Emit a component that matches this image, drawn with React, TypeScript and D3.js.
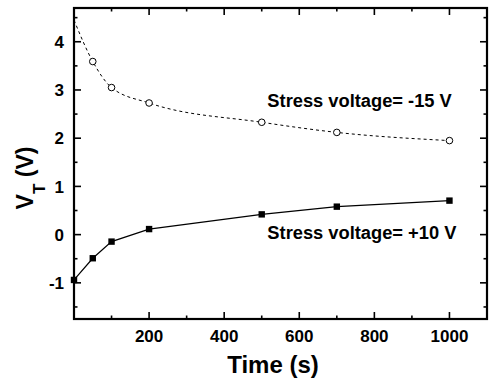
import React, { useEffect, useRef } from 'react';
import * as d3 from 'd3';

// stress time (s)
const times = [0, 50, 100, 200, 500, 700, 1000];
// threshold voltage under -15 V stress (open circles, dashed)
const vtNeg15 = [4.45, 3.59, 3.05, 2.73, 2.33, 2.12, 1.95];
// threshold voltage under +10 V stress (filled squares, solid)
const vtPos10 = [-0.94, -0.49, -0.145, 0.115, 0.42, 0.58, 0.705];

const xMajorTicks = [200, 400, 600, 800, 1000];
const xMinorTicks = [100, 300, 500, 700, 900];
const yMajorTicks = [-1, 0, 1, 2, 3, 4];
const yMinorTicks = [-1.5, -0.5, 0.5, 1.5, 2.5, 3.5, 4.5];

const labelNeg = 'Stress voltage= -15 V';
const labelPos = 'Stress voltage= +10 V';

const W = 489;
const H = 381;
const FONT = '"Liberation Sans", Arial, Helvetica, sans-serif';

const App: React.FC = () => {
  const svgRef = useRef<SVGSVGElement>(null);

  useEffect(() => {
    if (!svgRef.current) return;
    const svg = d3.select(svgRef.current);
    svg.selectAll('*').remove();

    const margin = { top: 8, right: 2, bottom: 62, left: 74 };
    const width = W - margin.left - margin.right;
    const height = H - margin.top - margin.bottom;

    const g = svg.append('g').attr('transform', `translate(${margin.left},${margin.top})`);

    const x = d3.scaleLinear().domain([0, 1100]).range([0, width]);
    const y = d3.scaleLinear().domain([-1.75, 4.7]).range([height, 0]);

    // inward ticks on all four sides
    const tickLen = (minor: boolean) => (minor ? 3.5 : 7);
    const ticks = g.append('g').attr('stroke', '#000').attr('stroke-width', 1.6);
    [...xMajorTicks.map(v => [v, false] as const), ...xMinorTicks.map(v => [v, true] as const)].forEach(([v, minor]) => {
      const px = x(v);
      ticks.append('line').attr('x1', px).attr('x2', px).attr('y1', height).attr('y2', height - tickLen(minor));
      ticks.append('line').attr('x1', px).attr('x2', px).attr('y1', 0).attr('y2', tickLen(minor));
    });
    [...yMajorTicks.map(v => [v, false] as const), ...yMinorTicks.map(v => [v, true] as const)].forEach(([v, minor]) => {
      const py = y(v);
      ticks.append('line').attr('x1', 0).attr('x2', tickLen(minor)).attr('y1', py).attr('y2', py);
      ticks.append('line').attr('x1', width).attr('x2', width - tickLen(minor)).attr('y1', py).attr('y2', py);
    });

    // tick labels
    g.selectAll('.xlab')
      .data(xMajorTicks)
      .enter().append('text')
      .attr('x', d => x(d))
      .attr('y', height + 23)
      .attr('text-anchor', 'middle')
      .style('font-family', FONT)
      .style('font-weight', 'bold')
      .style('font-size', '17px')
      .text(d => d);

    g.selectAll('.ylab')
      .data(yMajorTicks)
      .enter().append('text')
      .attr('x', -10)
      .attr('y', d => y(d))
      .attr('dy', '0.36em')
      .attr('text-anchor', 'end')
      .style('font-family', FONT)
      .style('font-weight', 'bold')
      .style('font-size', '17px')
      .text(d => d);

    // series lines
    const line = d3.line<number>()
      .x((d, i) => x(times[i]))
      .y(d => y(d));

    g.append('path')
      .datum(vtNeg15)
      .attr('fill', 'none')
      .attr('stroke', '#000')
      .attr('stroke-width', 1)
      .attr('stroke-dasharray', '3,3')
      .attr('d', line.curve(d3.curveMonotoneX));

    g.append('path')
      .datum(vtPos10)
      .attr('fill', 'none')
      .attr('stroke', '#000')
      .attr('stroke-width', 1.2)
      .attr('d', line.curve(d3.curveLinear));

    // markers (t = 0 point sits on the axis)
    g.selectAll('.circ')
      .data(vtNeg15.slice(1))
      .enter().append('circle')
      .attr('cx', (d, i) => x(times[i + 1]))
      .attr('cy', d => y(d))
      .attr('r', 3.3)
      .attr('fill', '#fff')
      .attr('stroke', '#000')
      .attr('stroke-width', 1);

    g.selectAll('.sq')
      .data(vtPos10)
      .enter().append('rect')
      .attr('x', (d, i) => x(times[i]) - 3.2)
      .attr('y', d => y(d) - 3.2)
      .attr('width', 6.4)
      .attr('height', 6.4)
      .attr('fill', '#000');

    // frame
    g.append('rect')
      .attr('x', 0)
      .attr('y', 0)
      .attr('width', width)
      .attr('height', height)
      .attr('fill', 'none')
      .attr('stroke', '#000')
      .attr('stroke-width', 2.2);

    // annotations
    const ann = [
      { text: labelNeg, t: 515, v: 2.65 },
      { text: labelPos, t: 515, v: -0.1 },
    ];
    g.selectAll('.ann')
      .data(ann)
      .enter().append('text')
      .attr('x', d => x(d.t))
      .attr('y', d => y(d.v))
      .style('font-family', FONT)
      .style('font-weight', 'bold')
      .style('font-size', '18.3px')
      .text(d => d.text);

    // axis titles
    svg.append('text')
      .attr('x', 273)
      .attr('y', 373)
      .attr('text-anchor', 'middle')
      .style('font-family', FONT)
      .style('font-weight', 'bold')
      .style('font-size', '24px')
      .text('Time (s)');

    const yt = svg.append('text')
      .attr('transform', 'translate(33,178) rotate(-90)')
      .attr('text-anchor', 'middle')
      .style('font-family', FONT)
      .style('font-weight', 'bold')
      .style('font-size', '23px');
    yt.append('tspan').text('V');
    yt.append('tspan').attr('dy', 12).style('font-size', '17px').text('T');
    yt.append('tspan').attr('dy', -12).text(' (V)');
  }, []);

  return (
    <svg
      ref={svgRef}
      width={W}
      height={H}
      style={{ position: 'absolute', left: 0, top: 0, background: '#fff' }}
    />
  );
};

export default App;
